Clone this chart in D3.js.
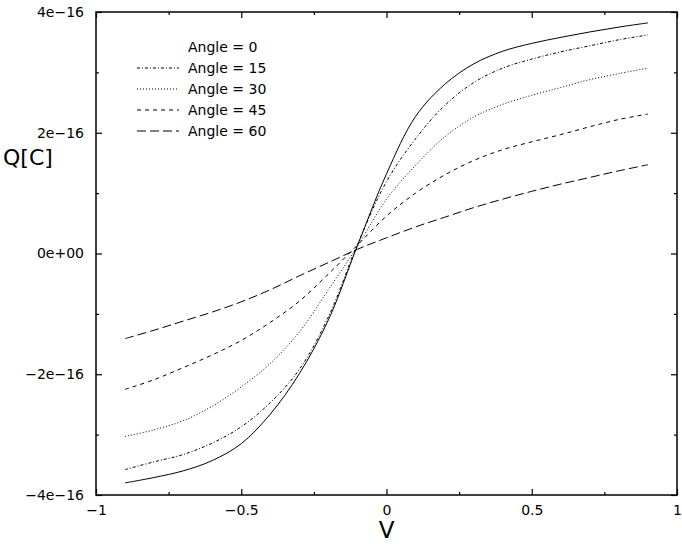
<!DOCTYPE html>
<head>
<meta charset="utf-8">
<style>
    body { margin: 0; background: #fff; }
    text { font-family: "DejaVu Sans", sans-serif; fill: #000; }
    .domain { display: none; }
    .tick line { stroke: #000; stroke-width: 1.2; }
</style>
</head>
<body>
<script src="https://d3js.org/d3.v7.min.js"></script>
<script>

///////////////////////////
////////// DATA ///////////
///////////////////////////

const voltage = [-0.9, -0.8, -0.7, -0.6, -0.5, -0.4, -0.3, -0.2, -0.1, 0,
                 0.1, 0.2, 0.3, 0.4, 0.5, 0.6, 0.7, 0.8, 0.9];

// charge in units of 1e-16 C
const angle0  = [-3.80, -3.71, -3.60, -3.43, -3.15, -2.66, -1.99, -1.10, 0.13, 1.32,
                 2.27, 2.80, 3.14, 3.35, 3.48, 3.58, 3.67, 3.75, 3.82];
const angle15 = [-3.58, -3.45, -3.33, -3.14, -2.87, -2.47, -1.92, -1.05, 0.15, 1.19,
                 1.90, 2.45, 2.83, 3.07, 3.22, 3.34, 3.44, 3.54, 3.62];
const angle30 = [-3.03, -2.92, -2.77, -2.53, -2.21, -1.82, -1.30, -0.60, 0.12, 0.90,
                 1.46, 1.93, 2.26, 2.47, 2.62, 2.75, 2.88, 2.98, 3.07];
const angle45 = [-2.25, -2.09, -1.89, -1.68, -1.44, -1.14, -0.79, -0.34, 0.14, 0.62,
                 1.00, 1.30, 1.54, 1.72, 1.85, 1.97, 2.10, 2.22, 2.31];
const angle60 = [-1.41, -1.27, -1.12, -0.97, -0.80, -0.60, -0.37, -0.15, 0.07, 0.26,
                 0.44, 0.60, 0.76, 0.90, 1.03, 1.15, 1.26, 1.37, 1.47];

const seriesNames = ['Angle = 0', 'Angle = 15', 'Angle = 30', 'Angle = 45', 'Angle = 60'];
const seriesValues = [angle0, angle15, angle30, angle45, angle60];
const dashes = ['none', '3,2,1,2', '1,2', '4,4', '9,4'];

const xMajor = [-1, -0.5, 0, 0.5, 1];
const xMajorLabels = ['\u22121', '\u22120.5', '0', '0.5', '1'];
const xMinor = [-0.75, -0.25, 0.25, 0.75];
const yMajor = [-4, -2, 0, 2, 4];
const yMajorLabels = ['\u22124e\u221216', '\u22122e\u221216', '0e+00', '2e\u221216', '4e\u221216'];
const yMinor = [-3, -1, 1, 3];

///////////////////////////
////////// SETUP //////////
///////////////////////////

const W = 682, H = 557;
const plotL = 96, plotR = 677, plotT = 12, plotB = 495;

let svg = d3.select('body').append('svg')
    .attr('width', W)
    .attr('height', H);

let x = d3.scaleLinear().domain([-1, 1]).range([plotL, plotR]);
let y = d3.scaleLinear().domain([-4, 4]).range([plotB, plotT]);

//////////////////////////
////////// AXES //////////
//////////////////////////

function addAxis(axis, tx, ty, showLabels) {
    let g = svg.append('g')
        .attr('transform', 'translate(' + tx + ',' + ty + ')')
        .call(axis);
    g.selectAll('text').style('font-size', '14px');
    if (!showLabels) g.selectAll('text').remove();
    return g;
}

addAxis(d3.axisBottom(x).tickValues(xMajor).tickSize(-6).tickPadding(10)
    .tickFormat((d, i) => xMajorLabels[i]), 0, plotB, true);
addAxis(d3.axisBottom(x).tickValues(xMinor).tickSize(-3), 0, plotB, false);
addAxis(d3.axisTop(x).tickValues(xMajor).tickSize(-6), 0, plotT, false);
addAxis(d3.axisTop(x).tickValues(xMinor).tickSize(-3), 0, plotT, false);

addAxis(d3.axisLeft(y).tickValues(yMajor).tickSize(-6).tickPadding(12)
    .tickFormat((d, i) => yMajorLabels[i]), plotL, 0, true);
addAxis(d3.axisLeft(y).tickValues(yMinor).tickSize(-3), plotL, 0, false);
addAxis(d3.axisRight(y).tickValues(yMajor).tickSize(-6), plotR, 0, false);
addAxis(d3.axisRight(y).tickValues(yMinor).tickSize(-3), plotR, 0, false);

svg.append('rect')
    .attr('x', plotL).attr('y', plotT)
    .attr('width', plotR - plotL).attr('height', plotB - plotT)
    .attr('fill', 'none').attr('stroke', '#000').attr('stroke-width', 1.5);

svg.append('text')
    .attr('x', (plotL + plotR) / 2).attr('y', 538)
    .attr('text-anchor', 'middle')
    .style('font-size', '23px')
    .text('V');

svg.append('text')
    .attr('x', 3).attr('y', 165)
    .style('font-size', '22px')
    .text('Q[C]');

//////////////////////////
////////// DRAW //////////
//////////////////////////

let line = d3.line()
    .curve(d3.curveCatmullRom.alpha(0.5))
    .x((d, i) => x(voltage[i]))
    .y(d => y(d));

seriesValues.forEach((vals, k) => {
    svg.append('path')
        .attr('d', line(vals))
        .attr('fill', 'none')
        .attr('stroke', '#000')
        .attr('stroke-width', 1)
        .attr('stroke-dasharray', dashes[k]);
});

// legend
let legend = svg.append('g');
seriesNames.forEach((name, k) => {
    let ly = 47 + k * 21;
    if (k > 0) {
        legend.append('line')
            .attr('x1', 137).attr('x2', 179)
            .attr('y1', ly).attr('y2', ly)
            .attr('stroke', '#000').attr('stroke-width', 1)
            .attr('stroke-dasharray', dashes[k]);
    }
    legend.append('text')
        .attr('x', 188).attr('y', ly + 5)
        .style('font-size', '14px')
        .text(name);
});

</script>
</body>
